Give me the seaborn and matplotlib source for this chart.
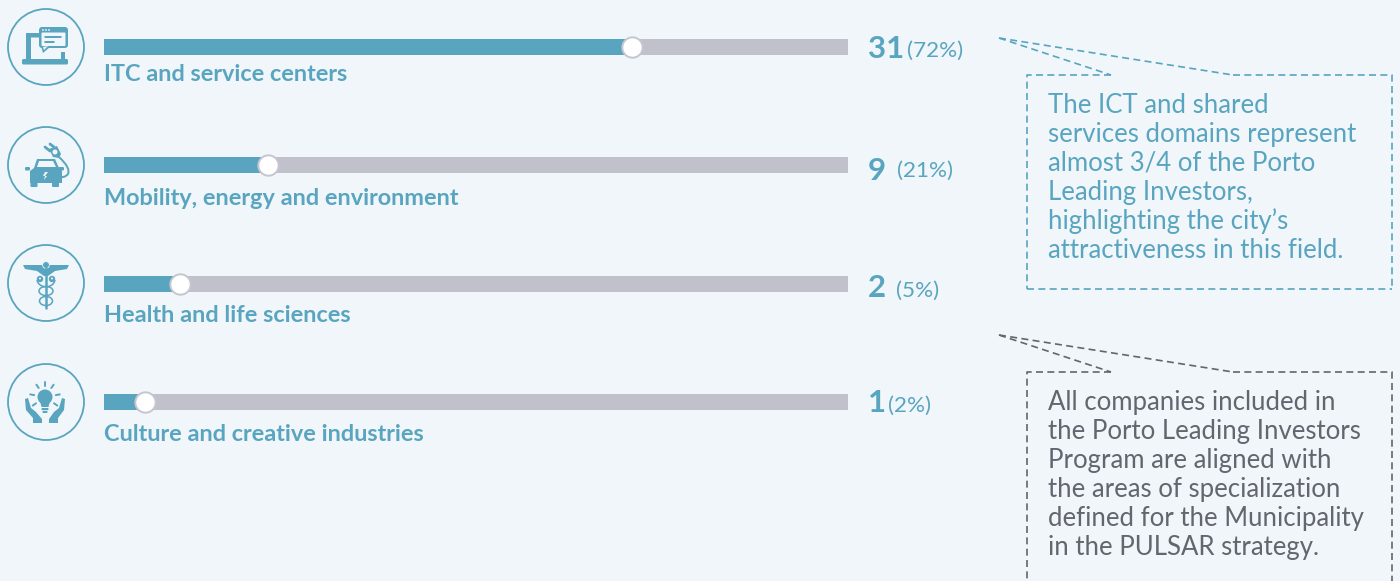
import matplotlib
matplotlib.use('Agg')
import numpy as np
import pandas as pd
import matplotlib.pyplot as plt
import seaborn as sns
from matplotlib.patches import Circle, Polygon, FancyBboxPatch, Ellipse, PathPatch
from matplotlib.path import Path

#data
categories = ['ITC and service centers', 'Mobility, energy and environment',
              'Health and life sciences', 'Culture and creative industries']
counts = [31, 9, 2, 1]
percents = ['(72%)', '(21%)', '(5%)', '(2%)']
knob_position = [71, 22, 10.2, 5.5]   #where the knob sits along the track, in %
track = [100, 100, 100, 100]

note_blue = ['The ICT and shared', 'services domains represent', 'almost 3/4 of the Porto',
             'Leading Investors,', 'highlighting the city\u2019s', 'attractiveness in this field.']
note_grey = ['All companies included in', 'the Porto Leading Investors', 'Program are aligned with',
             'the areas of specialization', 'defined for the Municipality', 'in the PULSAR strategy.']

#text offsets per row, in pixels
label_dy = [27.5, 33, 32, 33]
count_dy = [0, 3, 2, -1]
pct_x = [59, 49, 48, 40]
pct_dy = [2, 4, 5, 2]

BG = '#f0f6f9'
BLUE = '#59a5c0'
GREY = '#c1c1cb'
DARK = '#63656f'
FONT = 'Lato'
PX = 0.72   #points per pixel at dpi 100

sns.set_theme(style='white')
plt.rcParams['font.family'] = [FONT, 'DejaVu Sans']

W, H = 1400, 581
fig = plt.figure(figsize=(14, 5.81), dpi=100, facecolor=BG)

#overlay in pixels, for the icons and the notes
deco = fig.add_axes([0, 0, 1, 1])
deco.set_xlim(0, W)
deco.set_ylim(H, 0)
deco.axis('off')

#bars: track runs 104-848 px, rows 47 px + 118.33 px each
ax = fig.add_axes([104 / W, 0, (848 - 104) / W, 1])
ax.patch.set_alpha(0)
df = pd.DataFrame({'category': categories, 'track': track, 'pos': knob_position})
sns.barplot(data=df, y='category', x='track', color=GREY, width=16 / 118.33, saturation=1,
            linewidth=0, ax=ax)
sns.barplot(data=df, y='category', x='pos', color=BLUE, width=16 / 118.33, saturation=1,
            linewidth=0, ax=ax)
sns.scatterplot(x=knob_position, y=np.arange(len(categories)), s=215, color='white',
                edgecolor='#c6c6d0', linewidth=1.4, zorder=5, clip_on=False, ax=ax)
ax.set_xlim(0, 100)
ax.set_ylim((H - 47) / 118.33, -47 / 118.33)
ax.axis('off')

for i, cat in enumerate(categories):
    ax.annotate(cat, xy=(0, i), xytext=(0, -label_dy[i] * PX), textcoords='offset points', color=BLUE,
                fontsize=16.9, fontweight='bold', ha='left', va='center')
    ax.annotate(str(counts[i]), xy=(100, i), xytext=(20 * PX, -count_dy[i] * PX), textcoords='offset points',
                color=BLUE, fontsize=22.5, fontweight='bold', ha='left', va='center_baseline')
    ax.annotate(percents[i], xy=(100, i), xytext=(pct_x[i] * PX, -pct_dy[i] * PX), textcoords='offset points',
                color=BLUE, fontsize=16.2, ha='left', va='center_baseline')


def note(top, bottom, lines, colour, text_y):
    dash = (0, (4.2, 2.6))
    x0, x1, gap0, gap1, tip = 1027, 1392, 1111, 1233, (999, top - 37)
    kw = dict(color=colour, lw=1.2, ls=dash)
    deco.plot([gap0, x0, x0], [top, top, bottom], **kw)
    deco.plot([gap1, x1, x1], [top, top, bottom], **kw)
    deco.plot([x0, x1], [bottom, bottom], **kw)
    deco.plot([tip[0], gap0], [tip[1], top], **kw)
    deco.plot([tip[0], gap1], [tip[1], top], **kw)
    for n, line in enumerate(lines):
        deco.text(1048, text_y + n * 29, line, color=colour, fontsize=18.5,
                  ha='left', va='center_baseline')


note(75, 289, note_blue, BLUE, 103)
note(372, 600, note_grey, DARK, 400)


def fill(cx, cy, pts, colour=BLUE):
    deco.add_patch(Polygon([(cx + a, cy + b) for a, b in pts], closed=True, fc=colour, ec='none'))


def rrect(x, y, w, h, colour=BLUE, r=1.5):
    deco.add_patch(FancyBboxPatch((x + r, y + r), w - 2 * r, h - 2 * r, boxstyle='round,pad=%s' % r,
                                  fc=colour, ec='none'))


def curve(pts, lw=1.4, colour=BLUE):
    codes = [Path.MOVETO] + [Path.CURVE3] * (len(pts) - 1)
    deco.add_patch(PathPatch(Path(pts, codes), fc='none', ec=colour, lw=lw))


centers = [(46, 47), (46, 165), (46, 283), (46, 402)]
for c in centers:
    deco.add_patch(Circle(c, 38, fc='none', ec=BLUE, lw=1.3))

#laptop with chat bubble
rrect(22, 59, 46, 5.5)
rrect(26, 33, 5, 27, r=1)
rrect(26, 33, 14, 4.5, r=1)
rrect(61, 52, 4, 8, r=0.5)
rrect(39, 27, 29, 21, r=3)
fill(0, 0, [(41, 46), (43, 53), (50, 47)])
rrect(41.5, 32.5, 24, 13.5, BG, r=1)
fill(0, 0, [(43, 47), (44, 50), (48, 46)], BG)
rrect(44, 36, 18, 2)
rrect(44, 41, 11, 2)
for dx in (43, 46, 49):
    deco.add_patch(Circle((dx, 30), 0.9, fc=BG, ec='none'))

#car and plug
fill(46, 165, [(-12, 3), (-9, -6), (9, -6), (13, 3), (16, 6), (16, 18), (-16, 18), (-16, 6)])
fill(46, 165, [(-9, 2), (-7, -4), (7, -4), (10, 2)], BG)
rrect(30.5, 180, 7, 7, r=1)
rrect(52, 180, 7, 7, r=1)
rrect(25, 167, 5, 3.5, r=1.2)
rrect(58, 167, 6, 3.5, r=1.2)
fill(46, 165, [(-1, 7), (2, 7), (-1, 11), (1, 11), (-2, 15), (-1, 11), (-3, 11)], BG)
curve([(59, 157), (71, 168), (68, 174), (64, 179), (58, 176)])
fill(0, 0, [(49, 149), (57, 146), (61, 154), (59, 158), (53, 157)])
deco.plot([45, 50], [147, 151], color=BLUE, lw=2, solid_capstyle='round')
deco.plot([50, 54], [144, 147], color=BLUE, lw=2, solid_capstyle='round')
deco.add_patch(Circle((55, 152), 2.5, fc=BG, ec='none'))

#caduceus
fill(46, 283, [(-23, -18), (23, -18), (21, -14), (9, -12), (2, -7), (-2, -7), (-9, -12), (-21, -14)])
deco.add_patch(Circle((46, 265), 3.4, fc=BLUE, ec=BG, lw=0.6))
deco.plot([46, 46], [268, 308], color=BLUE, lw=1.8)
for cy, w in [(291, 14), (301, 13)]:
    deco.add_patch(Ellipse((46, cy), w, 9, fc='none', ec=BLUE, lw=1.1))
for hx in (40, 52):
    deco.add_patch(Circle((hx, 279), 3.2, fc=BLUE, ec='none'))
    deco.add_patch(Circle((hx, 278.5), 1, fc=BG, ec='none'))
curve([(37, 280), (38, 286), (46, 287)], lw=1.1)
curve([(55, 280), (54, 286), (46, 287)], lw=1.1)

#light bulb and hands
deco.add_patch(Circle((45, 397), 7.5, fc=BLUE, ec='none'))
fill(45, 397, [(-5, 4), (5, 4), (3.5, 10), (-3.5, 10)])
rrect(41.5, 408, 7, 2.2, r=0.8)
rrect(42.5, 411, 5, 2, r=0.8)
for a in np.radians([-90, -55, -125, -10, -170, 35, 145]):
    r0, r1 = 11, 15
    deco.plot([45 + r0 * np.cos(a), 45 + r1 * np.cos(a)], [397 + r0 * np.sin(a), 397 + r1 * np.sin(a)],
              color=BLUE, lw=1.4)
fill(0, 0, [(25, 399), (28, 398), (31, 408), (36, 412), (42, 419), (42, 423), (33, 423), (33, 418), (26, 410)])
fill(0, 0, [(65, 399), (62, 398), (59, 408), (54, 412), (49, 419), (49, 423), (58, 423), (58, 418), (64, 410)])

fig.savefig('out.png', dpi=100, facecolor=BG)
